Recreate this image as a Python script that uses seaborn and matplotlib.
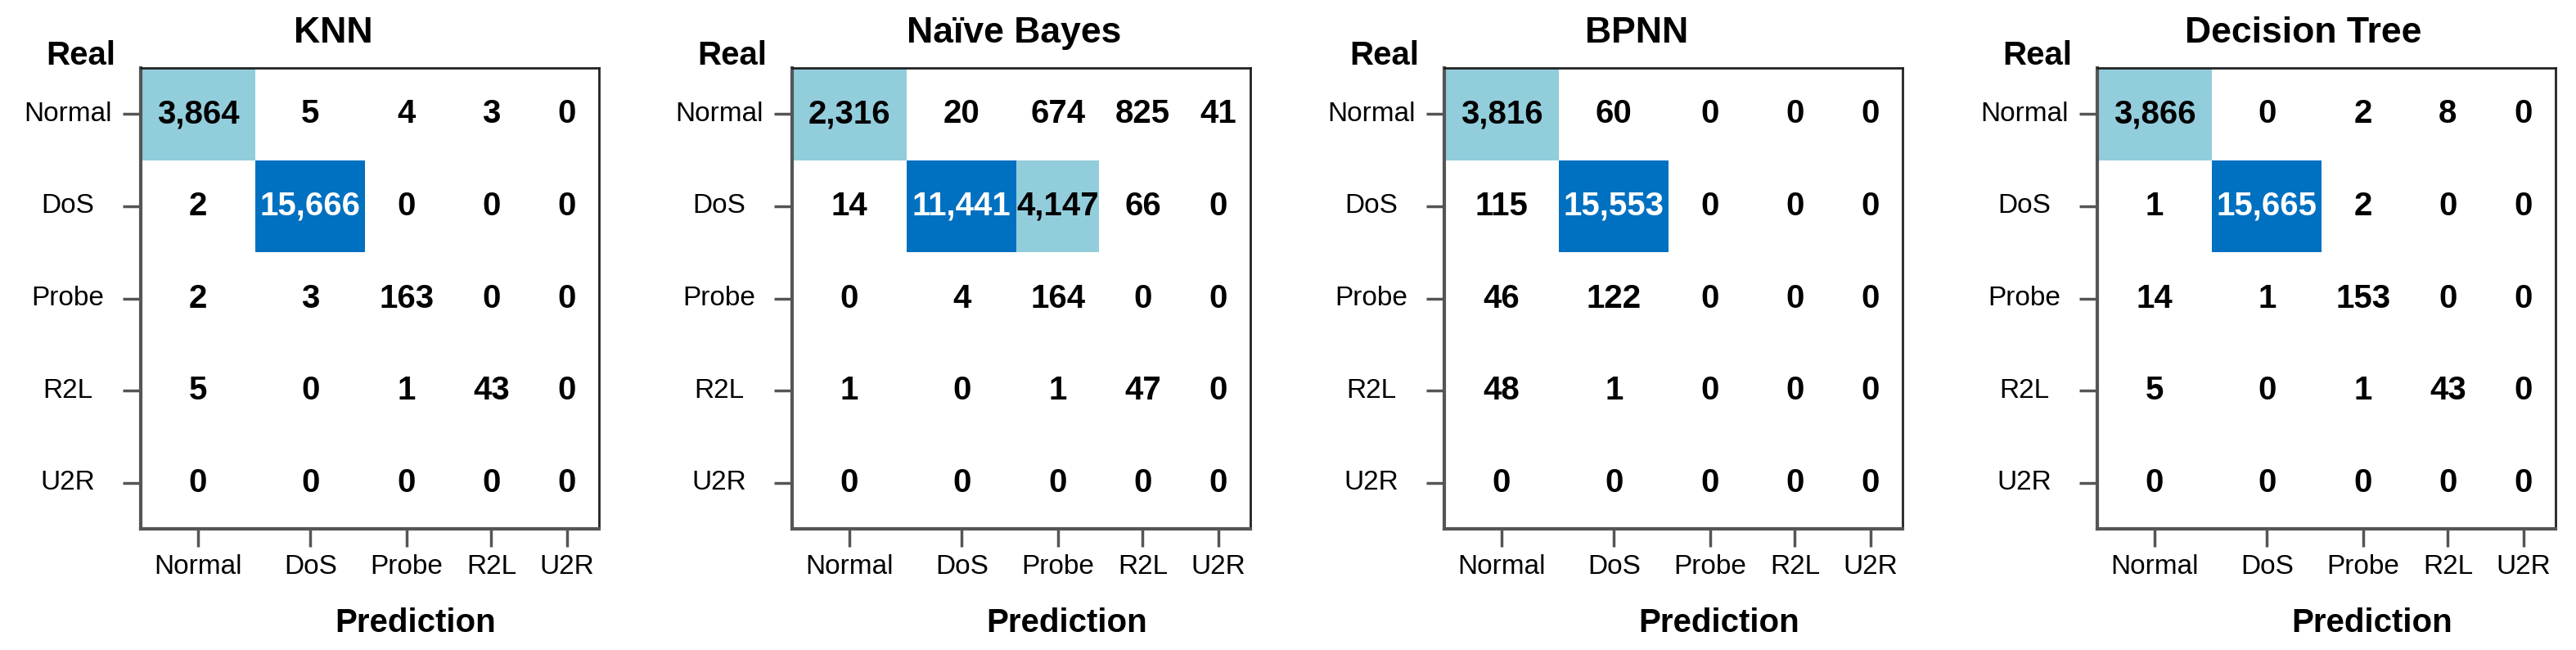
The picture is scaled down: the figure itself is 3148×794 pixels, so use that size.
import numpy as np
import matplotlib.pyplot as plt
import seaborn as sns
from matplotlib.colors import ListedColormap, BoundaryNorm

# Class labels and models
classes = ['Normal', 'DoS', 'Probe', 'R2L', 'U2R']
models = ['KNN', 'Naïve Bayes', 'BPNN', 'Decision Tree']

# Confusion matrices (rows = real, cols = prediction)
knn = [[3864, 5, 4, 3, 0],
       [2, 15666, 0, 0, 0],
       [2, 3, 163, 0, 0],
       [5, 0, 1, 43, 0],
       [0, 0, 0, 0, 0]]

naive_bayes = [[2316, 20, 674, 825, 41],
               [14, 11441, 4147, 66, 0],
               [0, 4, 164, 0, 0],
               [1, 0, 1, 47, 0],
               [0, 0, 0, 0, 0]]

bpnn = [[3816, 60, 0, 0, 0],
        [115, 15553, 0, 0, 0],
        [46, 122, 0, 0, 0],
        [48, 1, 0, 0, 0],
        [0, 0, 0, 0, 0]]

decision_tree = [[3866, 0, 2, 8, 0],
                 [1, 15665, 2, 0, 0],
                 [14, 1, 153, 0, 0],
                 [5, 0, 1, 43, 0],
                 [0, 0, 0, 0, 0]]

matrices = [knn, naive_bayes, bpnn, decision_tree]

sns.set_style('white')
plt.rcParams['font.family'] = ['Liberation Sans', 'DejaVu Sans']
plt.rcParams['text.color'] = 'black'
plt.rcParams['xtick.labelcolor'] = 'black'
plt.rcParams['ytick.labelcolor'] = 'black'
plt.rcParams['axes.labelcolor'] = 'black'

# white for small counts, light blue for medium, dark blue for large
cmap = ListedColormap(['white', '#92CDDC', '#0070C0'])
norm = BoundaryNorm([0, 1000, 10000, 100000], 3)

# columns in the original are not equally wide -> piecewise linear x scale
col_edges = [0, 0.25, 0.49, 0.67, 0.86, 1.0]
src = [-1000] + list(range(len(classes) + 1)) + [1005]
dst = [-200] + col_edges + [201]

def fwd(x):
    return np.interp(x, src, dst)

def inv(y):
    return np.interp(y, dst, src)

W, H = 3148, 794
fig = plt.figure(figsize=(W / 100, H / 100), dpi=100)

lefts = [172, 968, 1765, 2563]
title_x = [0.42, 0.485, 0.42, 0.45]
ax_w, ax_top, ax_h = 560, 83, 563

for left, tx, name, mat in zip(lefts, title_x, models, matrices):
    ax = fig.add_axes([left / W, 1 - (ax_top + ax_h) / H, ax_w / W, ax_h / H])
    ax.set_xscale('function', functions=(fwd, inv))
    data = np.array(mat)
    labels = np.vectorize(lambda v: f'{v:,}')(data)
    sns.heatmap(data, ax=ax, cmap=cmap, norm=norm, cbar=False,
                annot=labels, fmt='',
                annot_kws={'fontsize': 29, 'fontweight': 'bold'},
                xticklabels=classes, yticklabels=classes)

    # seaborn uses dark gray for text on light cells, original is black
    for t in ax.texts:
        if t.get_color() != 'w':
            t.set_color('black')

    for side in ['top', 'right']:
        ax.spines[side].set_visible(True)
        ax.spines[side].set_color('#222222')
        ax.spines[side].set_linewidth(2)
    for side in ['left', 'bottom']:
        ax.spines[side].set_visible(True)
        ax.spines[side].set_color('#555555')
        ax.spines[side].set_linewidth(3)

    ax.tick_params(axis='both', which='both', length=16, width=2.5, color='#555555',
                   labelsize=24, left=True, bottom=True)
    ax.tick_params(axis='x', which='minor', bottom=False)
    ax.tick_params(axis='y', pad=48)
    ax.tick_params(axis='x', pad=6)
    plt.setp(ax.get_yticklabels(), rotation=0, ha='center')
    plt.setp(ax.get_xticklabels(), rotation=0)

    ax.text(tx, 1.076, name, transform=ax.transAxes, ha='center', va='center',
            fontsize=32, fontweight='bold')
    ax.text(-0.13, 1.027, 'Real', transform=ax.transAxes, ha='center', va='center',
            fontsize=29, fontweight='bold')
    ax.set_xlabel('Prediction', fontsize=29, fontweight='bold')
    ax.xaxis.set_label_coords(0.6, -0.17)
    ax.set_ylabel('')

fig.savefig('out.png', dpi=100)
